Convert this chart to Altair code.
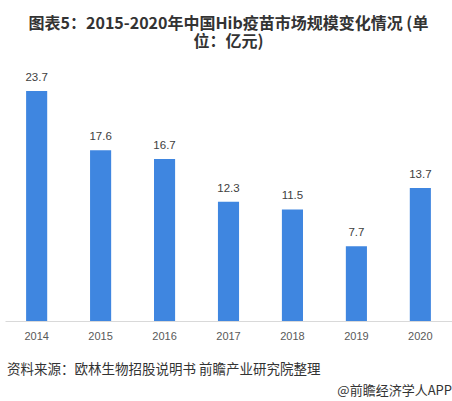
import altair as alt
import pandas as pd

years = ["2014", "2015", "2016", "2017", "2018", "2019", "2020"]
values = [23.7, 17.6, 16.7, 12.3, 11.5, 7.7, 13.7]
title_lines = ["图表5：2015-2020年中国Hib疫苗市场规模变化情况 (单", "位：亿元)"]
source_text = "资料来源：欧林生物招股说明书 前瞻产业研究院整理"
brand_text = "@前瞻经济学人APP"

FONT = "Liberation Sans, Arial, Noto Sans CJK SC"
CJK = "Noto Sans CJK SC, Liberation Sans"

df = pd.DataFrame({"year": years, "value": values})

W, H = 447, 242.6

base = alt.Chart(df).encode(
    x=alt.X("year:N", sort=years,
            scale=alt.Scale(paddingInner=0.67, paddingOuter=0.33),
            axis=alt.Axis(title=None, labelAngle=0, ticks=False, labelPadding=9,
                          labelFontSize=11, labelColor="#595959", labelFont=FONT,
                          domainColor="#d9d9d9", domainWidth=1, grid=False)),
    y=alt.Y("value:Q", scale=alt.Scale(domain=[0, 25], nice=False),
            axis=None),
)

bars = base.mark_bar(color="#3f86e0")
labels = base.mark_text(baseline="bottom", dy=-8, fontSize=11.5, color="#404040", font=FONT).encode(
    text=alt.Text("value:Q", format=".1f"))

src = alt.Chart(pd.DataFrame({"t": [source_text]})).mark_text(
    align="left", baseline="middle", fontSize=13.5, color="#333333", font=CJK
).encode(x=alt.value(2), y=alt.value(292), text="t:N")

brand = alt.Chart(pd.DataFrame({"t": [brand_text]})).mark_text(
    align="right", baseline="middle", fontSize=13, color="#333333", font=CJK
).encode(x=alt.value(447), y=alt.value(313), text="t:N")

chart = alt.layer(bars, labels, src, brand).properties(
    width=W, height=H,
    background="white",
    title=alt.Title(title_lines, anchor="middle", fontSize=16, fontWeight="bold",
                    color="#333333", font=CJK, lineHeight=18, offset=22),
    autosize=alt.AutoSizeParams(type="none"),
    padding={"left": 5, "top": 78.4, "right": 0, "bottom": 80},
).configure_view(stroke=None, strokeWidth=0)

chart.save("out.html", embed_options={"renderer": "svg", "actions": False})
